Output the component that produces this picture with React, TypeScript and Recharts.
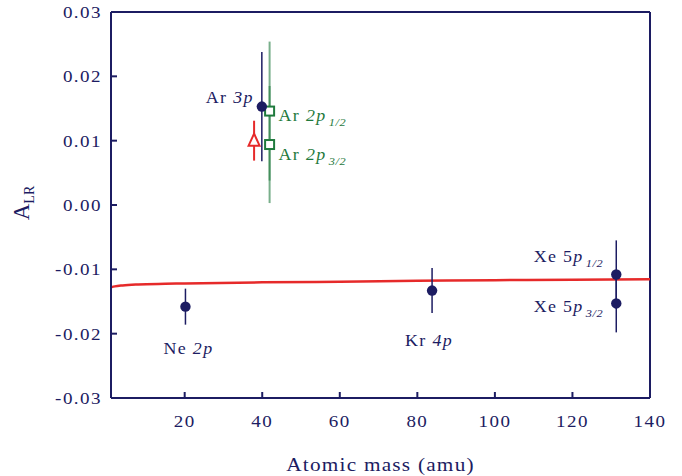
import React from "react";
import {
  ComposedChart, Scatter, Line, XAxis, YAxis, ErrorBar, ReferenceLine, ReferenceDot,
} from "recharts";

const NAVY = "#1c1c62";
const GREEN = "#1f7a3d";
const RED = "#e62a2a";
const FONT = "'Liberation Serif', 'Times New Roman', serif";
const SX = 1.12; // the original lettering is a little stretched and spaced out

const xTicks = [20, 40, 60, 80, 100, 120, 140];
const yTicks = [-0.03, -0.02, -0.01, 0, 0.01, 0.02, 0.03];

// measured asymmetries (navy dots)
const measured = [
  { name: "Ne", x: 20.2, y: -0.0158, err: 0.0028 },
  { name: "Ar3p", x: 39.9, y: 0.0153, err: 0.0085 },
  { name: "Kr", x: 83.8, y: -0.0133, err: 0.0035 },
  { name: "Xe12", x: 131.3, y: -0.0108, err: 0.0053 },
  { name: "Xe32", x: 131.3, y: -0.0153, err: 0.0045 },
];

// Ar 2p fine-structure components (green squares)
const ar2p = [
  { name: "Ar12", x: 41.9, y: 0.0146, err: 0.0108 },
  { name: "Ar32", x: 41.9, y: 0.0094, err: 0.0091 },
];

// red open triangle
const redPt = [{ name: "ArRed", x: 37.9, y: 0.0100, err: 0.0031 }];

// theory curve
const curve = [
  { x: 1, y: -0.0128 }, { x: 2, y: -0.01265 }, { x: 4, y: -0.0125 },
  { x: 8, y: -0.01235 }, { x: 15, y: -0.01225 }, { x: 20, y: -0.0122 },
  { x: 40, y: -0.01202 }, { x: 60, y: -0.01192 }, { x: 80, y: -0.01179 },
  { x: 100, y: -0.01168 }, { x: 120, y: -0.01162 }, { x: 140, y: -0.01156 },
];

const labels = [
  { at: "Ar3p", main: "Ar ", it: "3p", sub: "", color: NAVY, anchor: "end", dx: -8, dy: -4 },
  { at: "Ar12", main: "Ar ", it: "2p", sub: "1/2", color: GREEN, anchor: "start", dx: 9, dy: 10 },
  { at: "Ar32", main: "Ar ", it: "2p", sub: "3/2", color: GREEN, anchor: "start", dx: 9, dy: 15 },
  { at: "Xe12", main: "Xe 5", it: "p", sub: "1/2", color: NAVY, anchor: "end", dx: -13, dy: -12 },
  { at: "Xe32", main: "Xe 5", it: "p", sub: "3/2", color: NAVY, anchor: "end", dx: -13, dy: 9 },
  { at: "Ne", main: "Ne ", it: "2p", sub: "", color: NAVY, anchor: "middle", dx: 3, dy: 47 },
  { at: "Kr", main: "Kr ", it: "4p", sub: "", color: NAVY, anchor: "middle", dx: -3, dy: 55 },
];

const allPts = [...measured, ...ar2p, ...redPt];

const YTick = (p: any) => (
  <text transform={`translate(${p.x + 1},${p.y}) scale(${SX},1)`} textAnchor="end" dy={6}
    fontSize={17} letterSpacing={1.3} fill={NAVY} fontFamily={FONT}>
    {Number(p.payload.value).toFixed(2)}
  </text>
);

const XTick = (p: any) => (
  <text transform={`translate(${p.x},${p.y}) scale(${SX},1)`} textAnchor="middle"
    fontSize={17} letterSpacing={1.3} fill={NAVY} fontFamily={FONT}>
    {p.payload.value}
  </text>
);

const dot = (p: any) => <circle cx={p.cx} cy={p.cy} r={5.2} fill={NAVY} />;
const square = (p: any) => (
  <rect x={p.cx - 4.5} y={p.cy - 4.5} width={9} height={9} fill="#fff" stroke={GREEN} strokeWidth={2} />
);
const triangle = (p: any) => (
  <path d={`M${p.cx},${p.cy - 7} L${p.cx + 5.5},${p.cy + 5} L${p.cx - 5.5},${p.cy + 5} Z`}
    fill="#fff" stroke={RED} strokeWidth={2} />
);

function labelShape(l: (typeof labels)[number]) {
  return (p: any) => (
    <text transform={`translate(${p.cx + l.dx},${p.cy + l.dy}) scale(${SX},1)`}
      textAnchor={l.anchor} fontSize={16} letterSpacing={1.2} fill={l.color} fontFamily={FONT}>
      {l.main}
      <tspan fontStyle="italic">{l.it}</tspan>
      {l.sub && <tspan fontStyle="italic" fontSize={11} letterSpacing={0.5} dx={2} dy={5}>{l.sub}</tspan>}
    </text>
  );
}

export default function App() {
  return (
    <div style={{ position: "absolute", left: 0, top: 0, background: "#fff" }}>
      <ComposedChart width={682} height={476} margin={{ top: 12, right: 32, bottom: 0, left: 0 }}>
        <XAxis dataKey="x" type="number" domain={[1, 140]} ticks={xTicks} allowDataOverflow
          height={78} stroke={NAVY} strokeWidth={2} tickSize={-6} tickMargin={35} tick={XTick}
          label={{
            content: (p: any) => (
              <text transform={`translate(${p.viewBox.x + p.viewBox.width / 2},471) scale(${SX},1)`}
                textAnchor="middle" fontSize={19} letterSpacing={1.1} fill={NAVY} fontFamily={FONT}>
                Atomic mass (amu)
              </text>
            ),
          }} />
        <YAxis type="number" domain={[-0.03, 0.03]} ticks={yTicks} allowDataOverflow width={111}
          stroke={NAVY} strokeWidth={2} tickSize={-6} tickMargin={16} tick={YTick}
          label={{
            content: (p: any) => (
              <text transform={`translate(29,${p.viewBox.y + p.viewBox.height / 2 - 2}) rotate(-90)`}
                textAnchor="middle" fontSize={23} fill={NAVY} fontFamily={FONT}>
                A<tspan fontSize={14} dy={5}>LR</tspan>
              </text>
            ),
          }} />
        <ReferenceLine y={0.03} stroke={NAVY} strokeWidth={2} />
        <ReferenceLine x={140} stroke={NAVY} strokeWidth={2} />
        <Line data={curve} dataKey="y" type="monotone" stroke={RED} strokeWidth={2.5} dot={false}
          isAnimationActive={false} />
        <Scatter data={ar2p} dataKey="y" shape={square} isAnimationActive={false}>
          <ErrorBar dataKey="err" direction="y" width={0} stroke={GREEN} strokeWidth={2} strokeOpacity={0.6} />
        </Scatter>
        <Scatter data={redPt} dataKey="y" shape={triangle} isAnimationActive={false}>
          <ErrorBar dataKey="err" direction="y" width={0} stroke={RED} strokeWidth={2} />
        </Scatter>
        <Scatter data={measured} dataKey="y" shape={dot} isAnimationActive={false}>
          <ErrorBar dataKey="err" direction="y" width={0} stroke={NAVY} strokeWidth={1.5} />
        </Scatter>
        {labels.map((l) => {
          const pt = allPts.find((d) => d.name === l.at)!;
          return <ReferenceDot key={l.at} x={pt.x} y={pt.y} r={0} shape={labelShape(l)} />;
        })}
      </ComposedChart>
    </div>
  );
}
